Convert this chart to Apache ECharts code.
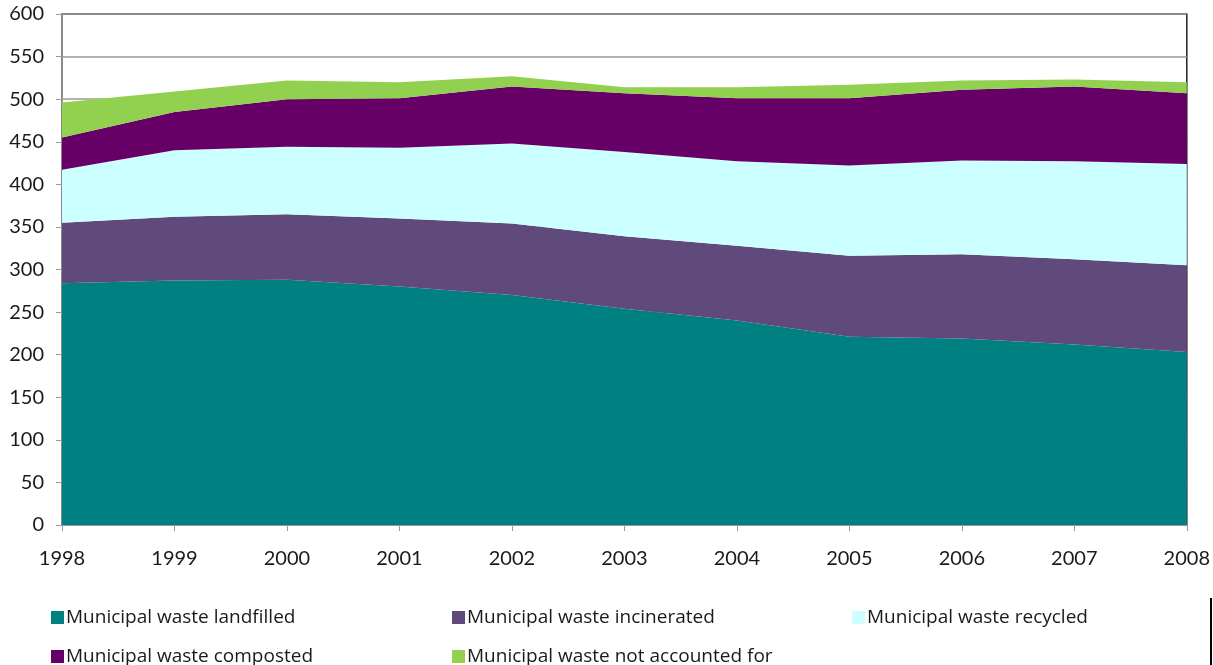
<!DOCTYPE html>
<html>
<head>
<meta charset="utf-8">
<script src="https://cdn.jsdelivr.net/npm/echarts@6/dist/echarts.min.js"></script>
<style>
  html, body { margin: 0; padding: 0; background: #fff; }
  #container { width: 1213px; height: 665px; }
</style>
</head>
<body>
<div id="container"></div>
<script type="text/javascript">
// data
var years = ['1998', '1999', '2000', '2001', '2002', '2003', '2004', '2005', '2006', '2007', '2008'];
var landfilled   = [284, 287, 288, 280, 270, 254, 240, 221, 219, 212, 203];
var incinerated  = [71, 75, 77, 80, 84, 85, 88, 95, 99, 100, 102];
var recycled     = [62, 78, 79, 83, 94, 99, 99, 106, 110, 115, 119];
var composted    = [38, 45, 56, 58, 67, 69, 74, 79, 83, 88, 83];
var notAccounted = [41, 24, 22, 19, 12, 7, 13, 16, 11, 8, 13];

var names = ['Municipal waste landfilled', 'Municipal waste incinerated', 'Municipal waste recycled',
             'Municipal waste composted', 'Municipal waste not accounted for'];
var colors = ['#008080', '#604a7b', '#ccffff', '#660066', '#92d050'];
var values = [landfilled, incinerated, recycled, composted, notAccounted];

var myChart = echarts.init(document.getElementById('container'));

var font = 'Lato';

// one legend per item so each sits in its own cell like the original
var legendPos = [[46, 603], [447, 603], [847, 603], [46, 642], [447, 642]];
var legends = [];
for (var k = 0; k < names.length; k++) {
    legends.push({
        left: legendPos[k][0],
        top: legendPos[k][1],
        itemWidth: 13,
        itemHeight: 13,
        icon: 'rect',
        textStyle: { color: '#1a1a1a', fontSize: 19, fontFamily: 'Open Sans', padding: [0, 0, 0, -3] },
        data: [names[k]]
    });
}

var series = [];
for (var i = 0; i < names.length; i++) {
    series.push({
        name: names[i],
        type: 'line',
        stack: 'total',
        data: values[i],
        showSymbol: false,
        lineStyle: { width: 0 },
        itemStyle: { color: colors[i] },
        areaStyle: { color: colors[i], opacity: 1 }
    });
}

var option = {
    animation: false,
    backgroundColor: '#fff',
    grid: { left: 62, right: 23, top: 14, bottom: 140, show: true, borderColor: '#222', borderWidth: 1.5, backgroundColor: 'transparent' },
    legend: legends,
    xAxis: {
        type: 'category',
        boundaryGap: false,
        data: years,
        axisLine: { lineStyle: { color: '#9a9a9a', width: 1.5 } },
        axisTick: { show: true, length: 6, lineStyle: { color: '#9a9a9a' } },
        axisLabel: { color: '#1a1a1a', fontSize: 20, fontFamily: font, margin: 24 },
        splitLine: { show: false }
    },
    yAxis: {
        type: 'value',
        min: 0,
        max: 600,
        interval: 50,
        axisLine: { show: true, lineStyle: { color: '#9a9a9a', width: 1.5 } },
        axisTick: { show: true, length: 6, lineStyle: { color: '#9a9a9a' } },
        axisLabel: { color: '#1a1a1a', fontSize: 20, fontFamily: font, margin: 18 },
        splitLine: { show: true, lineStyle: { color: '#9a9a9a', width: 1.5 } },
        z: 0
    },
    graphic: [{
        type: 'line',
        shape: { x1: 1211, y1: 598, x2: 1211, y2: 665 },
        style: { stroke: '#000', lineWidth: 2 }
    }],
    series: series
};

myChart.setOption(option);
</script>
</body>
</html>
